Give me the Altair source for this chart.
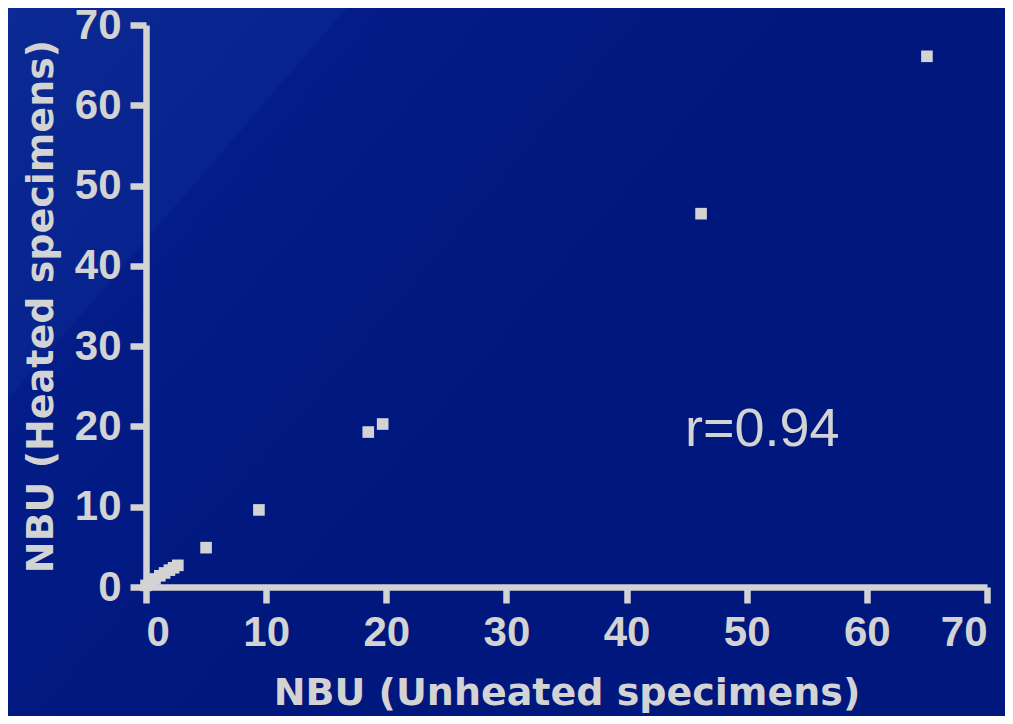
import altair as alt
import pandas as pd

# Data
unheated = [0.0, 0.35, 0.75, 1.15, 1.55, 1.95, 2.3, 2.65, 5.0, 9.4, 18.5, 19.7, 46.2, 65.0]
heated = [0.2, 0.6, 1.0, 1.4, 1.75, 2.1, 2.4, 2.7, 4.9, 9.6, 19.3, 20.3, 46.5, 66.1]
tick_values = [0, 10, 20, 30, 40, 50, 60, 70]
annotation_text = ["r=0.94"]
annotation_x = [51.3]
annotation_y = [19.6]

pts = pd.DataFrame({"x": unheated, "y": heated})
ann = pd.DataFrame({"x": annotation_x, "y": annotation_y, "t": annotation_text})
bg = pd.DataFrame({"k": [0]})

FG = "#d3d3d3"
BG = "#01187f"

W, H = 841, 562
PAD = {"left": 138, "top": 17, "right": 18, "bottom": 129}

xscale = alt.Scale(domain=[0, 70], nice=False, zero=True)
yscale = alt.Scale(domain=[0, 70], nice=False, zero=True)

common_axis = dict(
    values=tick_values,
    grid=False,
    zindex=1,
    domainColor=FG,
    domainWidth=6.5,
    tickColor=FG,
    tickWidth=6.5,
    tickSize=16,
    labelColor=FG,
    labelFont="Liberation Sans",
    labelFontWeight="bold",
    labelFontSize=42,
    titleColor=FG,
    titleFont="DejaVu Sans",
    titleFontWeight="bold",
    titleFontSize=38,
)

# slide-style background with a lighter top-left band
backdrop = alt.Chart(bg).mark_rect(
    fill=alt.LinearGradient(
        gradient="linear",
        x1=0, y1=0, x2=0.576, y2=0.354,
        stops=[
            alt.GradientStop(color="#0c2a94", offset=0),
            alt.GradientStop(color="#07238d", offset=0.425),
            alt.GradientStop(color="#031c87", offset=0.432),
            alt.GradientStop(color="#00177e", offset=1),
        ],
    ),
    strokeWidth=0,
).encode(
    x=alt.value(-PAD["left"]),
    x2=alt.value(W + PAD["right"]),
    y=alt.value(-PAD["top"]),
    y2=alt.value(H + PAD["bottom"]),
)

points = alt.Chart(pts).mark_point(
    shape="square", filled=True, size=135, color=FG, opacity=1
).encode(
    x=alt.X("x:Q", scale=xscale,
            axis=alt.Axis(title="NBU (Unheated specimens)", labelPadding=9,
                          titlePadding=21, **common_axis)),
    y=alt.Y("y:Q", scale=yscale,
            axis=alt.Axis(title="NBU (Heated specimens)", labelPadding=9,
                          titlePadding=14, **common_axis)),
)

text = alt.Chart(ann).mark_text(
    font="Liberation Sans", fontSize=54, color=FG, align="center", baseline="middle"
).encode(
    x=alt.X("x:Q", scale=xscale),
    y=alt.Y("y:Q", scale=yscale),
    text="t:N",
)

chart = alt.layer(backdrop, points, text).properties(
    width=W,
    height=H,
    background=BG,
    padding=PAD,
    autosize=alt.AutoSizeParams(type="none"),
).configure_view(stroke=None)

chart.save("out.html", embed_options={"renderer": "svg", "actions": False})
